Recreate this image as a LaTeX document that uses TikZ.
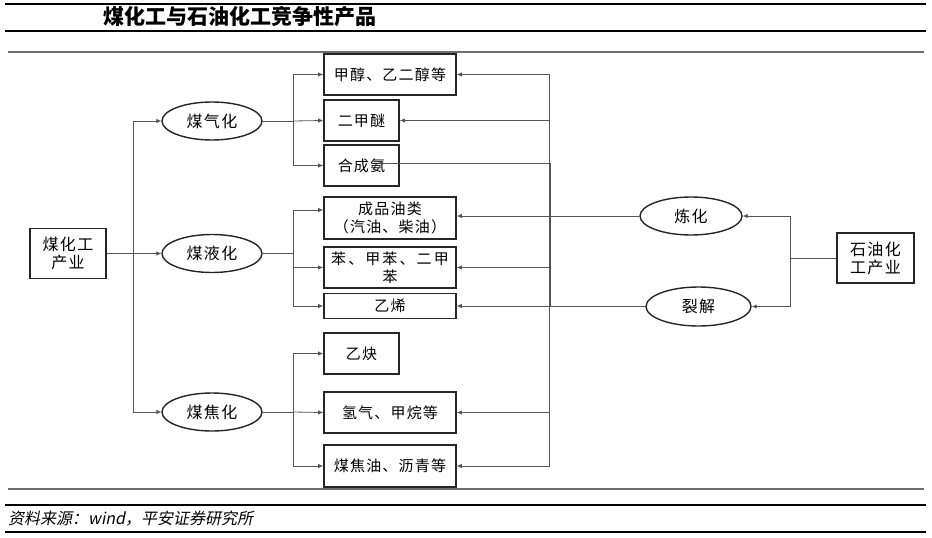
\documentclass[tikz,border=0pt]{standalone}
\usepackage{fontspec}
\newfontfamily\cjk{Noto Sans CJK SC}
\newfontfamily\cjkwide[LetterSpace=8]{Noto Sans CJK SC}
\newfontfamily\cjkslant[FakeSlant=0.2]{Noto Sans CJK SC}
\usetikzlibrary{arrows.meta, shapes.geometric}
\definecolor{linegray}{HTML}{555555}
\definecolor{rulegray}{HTML}{6E6E6E}

\tikzset{
  prodbox/.style={draw=black!85, line width=1.6pt, inner sep=0pt,
    minimum height=41pt, align=center,
    font=\cjkwide\fontsize{15}{18}\selectfont},
  procell/.style={ellipse, draw=black!85, line width=1.4pt, inner sep=0pt,
    minimum width=100pt, minimum height=38pt,
    font=\cjkwide\fontsize{16}{18}\selectfont},
  wire/.style={draw=linegray, line width=0.8pt},
  feedarrow/.style={wire, -{Latex[length=5pt, width=4.5pt]}},
}

\begin{document}
\begin{tikzpicture}[x=1pt, y=-1pt]
\useasboundingbox (0,0) rectangle (932,538);

% --- page rules ---
\draw[line width=1.6pt] (5,4) -- (926,4);
\draw[line width=1.6pt] (5,31) -- (926,31);
\draw[rulegray, line width=1.4pt] (8,52) -- (924,52);
\draw[rulegray, line width=1.4pt] (8,489) -- (924,489);
\draw[line width=1.6pt] (5,505) -- (926,505);
\draw[line width=1.6pt] (5,532) -- (926,532);

% --- title and source ---
\node[anchor=west, inner sep=0pt, font=\cjk\bfseries\fontsize{21}{24}\selectfont]
  (title) at (103,17) {煤化工与石油化工竞争性产品};
\node[anchor=west, inner sep=0pt, font=\cjkslant\fontsize{16}{18}\selectfont]
  (source) at (8,519) {资料来源：wind，平安证券研究所};

% --- coal side ---
\node[prodbox, minimum width=76pt, minimum height=50pt,
  font=\cjkwide\fontsize{16}{18}\selectfont] (coal) at (68,253.5) {煤化工\\产业};
\node[procell] (gasify) at (212,121) {煤气化};
\node[procell] (liquefy) at (212,253.5) {煤液化};
\node[procell] (coke) at (212,412) {煤焦化};

% --- products ---
\node[prodbox, minimum width=132pt] (methanol) at (390,74.5) {甲醇、乙二醇等};
\node[prodbox, minimum width=75pt] (dme) at (361.5,120.5) {二甲醚};
\node[prodbox, minimum width=75pt] (ammonia) at (361.5,165.5) {合成氨};
\node[prodbox, minimum width=132pt, minimum height=42pt] (fuel) at (390,218)
  {成品油类\\（汽油、柴油）};
\node[prodbox, minimum width=132pt] (benzene) at (390,267.5)
  {\addfontfeature{LetterSpace=14}苯、甲苯、二甲\\苯};
\node[prodbox, minimum width=132pt, minimum height=25pt] (ethylene) at (390,306) {乙烯};
\node[prodbox, minimum width=75pt] (acetylene) at (361.5,353.5) {乙炔};
\node[prodbox, minimum width=132pt] (hydrogen) at (390,412.5) {氢气、甲烷等};
\node[prodbox, minimum width=132pt, minimum height=42pt] (tar) at (390,466) {煤焦油、沥青等};

% --- petrochemical side ---
\node[prodbox, minimum width=77pt, minimum height=50pt,
  font=\cjkwide\fontsize{16}{18}\selectfont] (petro) at (875.5,258) {石油化\\工产业};
\node[procell, minimum width=102pt] (refine) at (691,216) {炼化};
\node[procell, minimum width=105pt, minimum height=39pt] (crack) at (698.5,306.5) {裂解};

% --- bus points ---
\coordinate (ctrunk) at (133,253.5);
\coordinate (gbus) at (293,121);
\coordinate (lbus) at (293,253.5);
\coordinate (kbus) at (293,412);
\coordinate (pbus) at (790,258);
\coordinate (rbus) at (549,306.5);
\coordinate (abus) at (550.5,163);
\coordinate (ammoniain) at (378,163);

% coal industry -> processes
\draw[wire] (coal.east) -- (ctrunk);
\draw[feedarrow] (ctrunk) |- (gasify.west);
\draw[feedarrow] (ctrunk) -- (liquefy.west);
\draw[feedarrow] (ctrunk) |- (coke.west);

% processes -> products
\draw[wire] (gasify.east) -- (gbus);
\draw[feedarrow] (gbus) |- (methanol.west);
\draw[feedarrow] (gbus) -- (dme.west);
\draw[feedarrow] (gbus) |- (ammonia.west);

\draw[wire] (liquefy.east) -- (lbus);
\draw[feedarrow] (lbus) |- ([yshift=8pt]fuel.west);
\draw[feedarrow] (lbus) |- (benzene.west);
\draw[feedarrow] (lbus) |- (ethylene.west);

\draw[wire] (coke.east) -- (kbus);
\draw[feedarrow] (kbus) |- (acetylene.west);
\draw[feedarrow] (kbus) -- (hydrogen.west);
\draw[feedarrow] (kbus) |- (tar.west);

% petrochemical industry
\draw[wire] (petro.west) -- (pbus);
\draw[feedarrow] (pbus) |- (refine.east);
\draw[feedarrow] (pbus) |- (crack.east);
\draw[feedarrow] (refine.west) -- (refine.west -| fuel.east);

\draw[wire, line width=1.2pt] (crack.west) -- (rbus);
\foreach \prod in {methanol, dme, benzene, ethylene, hydrogen, tar}
  \draw[feedarrow] (rbus) |- (\prod.east);
\draw[feedarrow] (crack.west) -| (abus) -- (ammoniain);

\end{tikzpicture}
\end{document}
